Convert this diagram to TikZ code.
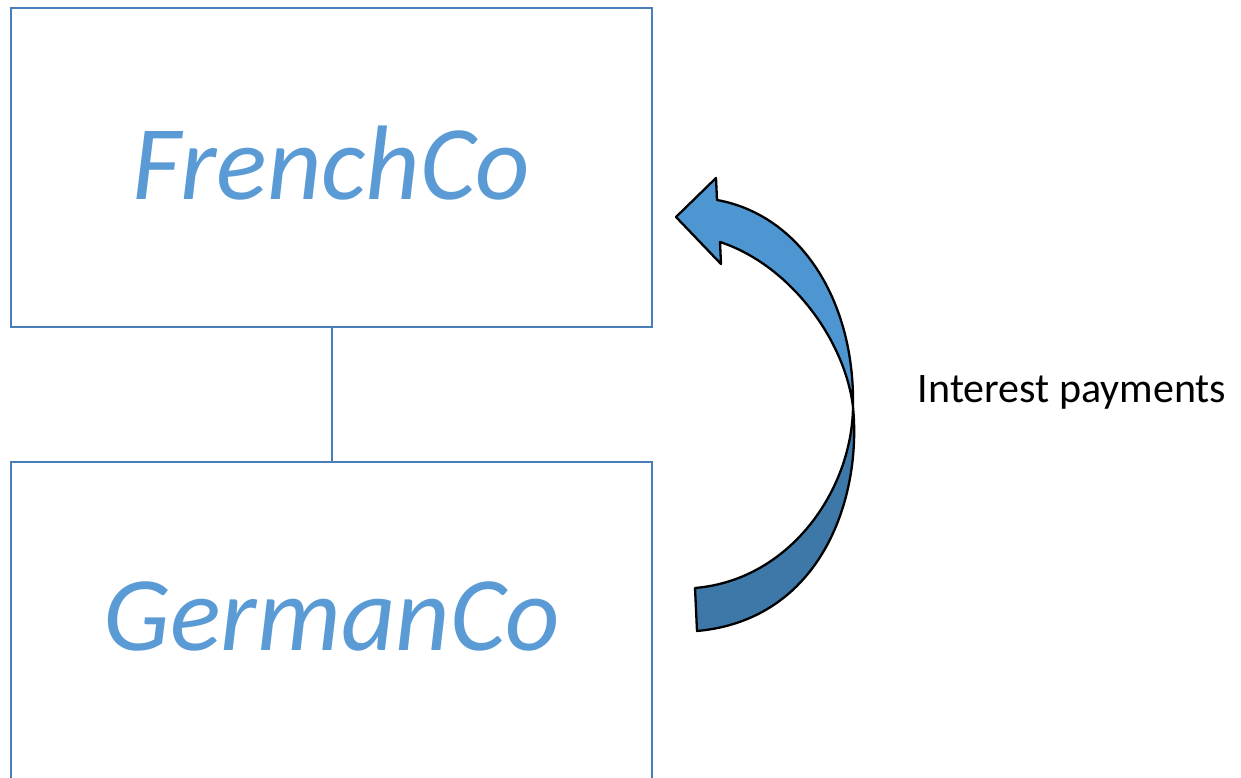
\documentclass[tikz,border=0pt]{standalone}
\usepackage{fontspec}
\setmainfont{Carlito}
\definecolor{boxline}{RGB}{74,126,187}
\definecolor{cotext}{RGB}{91,155,213}
\definecolor{arrowtop}{RGB}{78,150,210}
\definecolor{arrowbot}{RGB}{61,120,168}

\tikzset{
        company/.style = {rectangle,draw=boxline,line width=2pt,fill=white,minimum width=641pt,minimum height=319pt,inner sep=0pt,text depth=10pt,text=cotext,font=\fontsize{106}{120}\selectfont\itshape},
        flow/.style = {draw=black,line width=2.3pt,line join=round},
        link/.style = {draw=boxline,line width=2pt}
    }

\begin{document}
\begin{tikzpicture}[x=1pt,y=1pt]
            \useasboundingbox (0,0) rectangle (1241,778);
            \clip (0,0) rectangle (1241,778);

            \node[company] (french) at (331.5, 610.5) {FrenchCo};
            \node[company] (german) at (331.5, 156.5) {GermanCo};
            \draw[link] (french.south) -- (german.north);

            % twisted arrow, lower (back) part
            \path[flow,fill=arrowbot] (853,371) .. controls (862,278) and (820,158) .. (697,147)
                -- (695,190) .. controls (790,198) and (852,288) .. cycle;
            % upper (front) part with head
            \path[flow,fill=arrowtop] (853,371) .. controls (855,478) and (800,563) .. (717,578)
                -- (716,600) -- (676,561) -- (721,514) -- (720,536)
                .. controls (790,513) and (845,438) .. cycle;

            \node[font=\fontsize{42}{50}\selectfont] (pay) at (1072, 386) {Interest payments};
        \end{tikzpicture}
\end{document}
